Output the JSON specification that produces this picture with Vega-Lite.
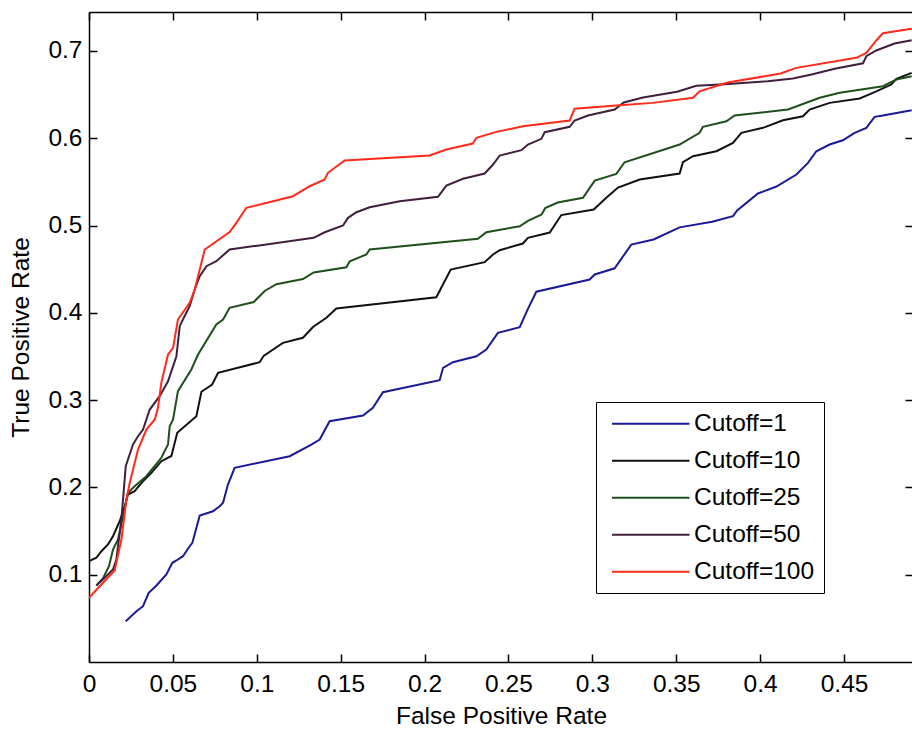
{
  "$schema": "https://vega.github.io/schema/vega-lite/v6.json",
  "autosize": {"type": "none"},
  "padding": {"left": 89, "top": 12, "right": 0, "bottom": 67},
  "width": 824,
  "height": 650,
  "background": "white",
  "config": {"view": {"stroke": null}, "font": "Liberation Sans"},
  "data": {"values": [
    {"s":"Cutoff=1","x":0.0219,"y":0.0467},{"s":"Cutoff=1","x":0.0283,"y":0.0582},{"s":"Cutoff=1","x":0.0322,"y":0.0639},{"s":"Cutoff=1","x":0.0356,"y":0.0793},{"s":"Cutoff=1","x":0.0402,"y":0.0876},{"s":"Cutoff=1","x":0.0461,"y":0.1002},{"s":"Cutoff=1","x":0.0497,"y":0.1136},{"s":"Cutoff=1","x":0.0521,"y":0.1163},{"s":"Cutoff=1","x":0.0560,"y":0.1212},{"s":"Cutoff=1","x":0.0600,"y":0.1326},{"s":"Cutoff=1","x":0.0616,"y":0.1365},{"s":"Cutoff=1","x":0.0660,"y":0.1678},{"s":"Cutoff=1","x":0.0739,"y":0.1727},{"s":"Cutoff=1","x":0.0779,"y":0.1785},{"s":"Cutoff=1","x":0.0799,"y":0.1824},{"s":"Cutoff=1","x":0.0828,"y":0.2033},{"s":"Cutoff=1","x":0.0868,"y":0.2224},{"s":"Cutoff=1","x":0.1196,"y":0.2357},{"s":"Cutoff=1","x":0.1325,"y":0.2491},{"s":"Cutoff=1","x":0.1375,"y":0.2549},{"s":"Cutoff=1","x":0.1434,"y":0.2758},{"s":"Cutoff=1","x":0.1633,"y":0.2824},{"s":"Cutoff=1","x":0.1692,"y":0.2912},{"s":"Cutoff=1","x":0.1752,"y":0.3090},{"s":"Cutoff=1","x":0.2090,"y":0.3228},{"s":"Cutoff=1","x":0.2110,"y":0.3370},{"s":"Cutoff=1","x":0.2169,"y":0.3434},{"s":"Cutoff=1","x":0.2309,"y":0.3503},{"s":"Cutoff=1","x":0.2368,"y":0.3580},{"s":"Cutoff=1","x":0.2437,"y":0.3771},{"s":"Cutoff=1","x":0.2567,"y":0.3835},{"s":"Cutoff=1","x":0.2616,"y":0.4046},{"s":"Cutoff=1","x":0.2666,"y":0.4242},{"s":"Cutoff=1","x":0.2984,"y":0.4381},{"s":"Cutoff=1","x":0.3014,"y":0.4439},{"s":"Cutoff=1","x":0.3133,"y":0.4510},{"s":"Cutoff=1","x":0.3232,"y":0.4782},{"s":"Cutoff=1","x":0.3365,"y":0.4840},{"s":"Cutoff=1","x":0.3520,"y":0.4979},{"s":"Cutoff=1","x":0.3714,"y":0.5044},{"s":"Cutoff=1","x":0.3838,"y":0.5107},{"s":"Cutoff=1","x":0.3863,"y":0.5172},{"s":"Cutoff=1","x":0.3987,"y":0.5367},{"s":"Cutoff=1","x":0.4097,"y":0.5447},{"s":"Cutoff=1","x":0.4216,"y":0.5584},{"s":"Cutoff=1","x":0.4285,"y":0.5718},{"s":"Cutoff=1","x":0.4335,"y":0.5851},{"s":"Cutoff=1","x":0.4414,"y":0.5928},{"s":"Cutoff=1","x":0.4493,"y":0.5977},{"s":"Cutoff=1","x":0.4563,"y":0.6062},{"s":"Cutoff=1","x":0.4633,"y":0.6119},{"s":"Cutoff=1","x":0.4682,"y":0.6245},{"s":"Cutoff=1","x":0.4732,"y":0.6260},{"s":"Cutoff=1","x":0.4903,"y":0.6321},
    {"s":"Cutoff=10","x":0.0,"y":0.1155},{"s":"Cutoff=10","x":0.0044,"y":0.1194},{"s":"Cutoff=10","x":0.0074,"y":0.1269},{"s":"Cutoff=10","x":0.0113,"y":0.1346},{"s":"Cutoff=10","x":0.0143,"y":0.1441},{"s":"Cutoff=10","x":0.0183,"y":0.1613},{"s":"Cutoff=10","x":0.0213,"y":0.1785},{"s":"Cutoff=10","x":0.0232,"y":0.1919},{"s":"Cutoff=10","x":0.0272,"y":0.1956},{"s":"Cutoff=10","x":0.0322,"y":0.2071},{"s":"Cutoff=10","x":0.0372,"y":0.2167},{"s":"Cutoff=10","x":0.0431,"y":0.2300},{"s":"Cutoff=10","x":0.0491,"y":0.2360},{"s":"Cutoff=10","x":0.0526,"y":0.2625},{"s":"Cutoff=10","x":0.0640,"y":0.2816},{"s":"Cutoff=10","x":0.0670,"y":0.3096},{"s":"Cutoff=10","x":0.0734,"y":0.3179},{"s":"Cutoff=10","x":0.0769,"y":0.3313},{"s":"Cutoff=10","x":0.1017,"y":0.3434},{"s":"Cutoff=10","x":0.1041,"y":0.3505},{"s":"Cutoff=10","x":0.1097,"y":0.3580},{"s":"Cutoff=10","x":0.1156,"y":0.3656},{"s":"Cutoff=10","x":0.1275,"y":0.3714},{"s":"Cutoff=10","x":0.1335,"y":0.3837},{"s":"Cutoff=10","x":0.1415,"y":0.3943},{"s":"Cutoff=10","x":0.1474,"y":0.4049},{"s":"Cutoff=10","x":0.2070,"y":0.4178},{"s":"Cutoff=10","x":0.2156,"y":0.4496},{"s":"Cutoff=10","x":0.2358,"y":0.4580},{"s":"Cutoff=10","x":0.2408,"y":0.4668},{"s":"Cutoff=10","x":0.2448,"y":0.4717},{"s":"Cutoff=10","x":0.2586,"y":0.4794},{"s":"Cutoff=10","x":0.2616,"y":0.4859},{"s":"Cutoff=10","x":0.2746,"y":0.4920},{"s":"Cutoff=10","x":0.2815,"y":0.5120},{"s":"Cutoff=10","x":0.3008,"y":0.5183},{"s":"Cutoff=10","x":0.3083,"y":0.5317},{"s":"Cutoff=10","x":0.3153,"y":0.5435},{"s":"Cutoff=10","x":0.3282,"y":0.5527},{"s":"Cutoff=10","x":0.3520,"y":0.5596},{"s":"Cutoff=10","x":0.3540,"y":0.5725},{"s":"Cutoff=10","x":0.3600,"y":0.5794},{"s":"Cutoff=10","x":0.3739,"y":0.5851},{"s":"Cutoff=10","x":0.3838,"y":0.5947},{"s":"Cutoff=10","x":0.3888,"y":0.6062},{"s":"Cutoff=10","x":0.4017,"y":0.6119},{"s":"Cutoff=10","x":0.4136,"y":0.6206},{"s":"Cutoff=10","x":0.4255,"y":0.6252},{"s":"Cutoff=10","x":0.4295,"y":0.6329},{"s":"Cutoff=10","x":0.4414,"y":0.6405},{"s":"Cutoff=10","x":0.4593,"y":0.6455},{"s":"Cutoff=10","x":0.4672,"y":0.6520},{"s":"Cutoff=10","x":0.4782,"y":0.6615},{"s":"Cutoff=10","x":0.4812,"y":0.6680},{"s":"Cutoff=10","x":0.4903,"y":0.6749},
    {"s":"Cutoff=25","x":0.0044,"y":0.0876},{"s":"Cutoff=25","x":0.0083,"y":0.0956},{"s":"Cutoff=25","x":0.0119,"y":0.1097},{"s":"Cutoff=25","x":0.0143,"y":0.1289},{"s":"Cutoff=25","x":0.0173,"y":0.1403},{"s":"Cutoff=25","x":0.0203,"y":0.1670},{"s":"Cutoff=25","x":0.0232,"y":0.1938},{"s":"Cutoff=25","x":0.0272,"y":0.2014},{"s":"Cutoff=25","x":0.0342,"y":0.2128},{"s":"Cutoff=25","x":0.0431,"y":0.2339},{"s":"Cutoff=25","x":0.0471,"y":0.2491},{"s":"Cutoff=25","x":0.0481,"y":0.2701},{"s":"Cutoff=25","x":0.0501,"y":0.2778},{"s":"Cutoff=25","x":0.0530,"y":0.3102},{"s":"Cutoff=25","x":0.0610,"y":0.3351},{"s":"Cutoff=25","x":0.0650,"y":0.3522},{"s":"Cutoff=25","x":0.0759,"y":0.3866},{"s":"Cutoff=25","x":0.0799,"y":0.3923},{"s":"Cutoff=25","x":0.0838,"y":0.4057},{"s":"Cutoff=25","x":0.0982,"y":0.4124},{"s":"Cutoff=25","x":0.1047,"y":0.4250},{"s":"Cutoff=25","x":0.1117,"y":0.4328},{"s":"Cutoff=25","x":0.1275,"y":0.4387},{"s":"Cutoff=25","x":0.1339,"y":0.4462},{"s":"Cutoff=25","x":0.1534,"y":0.4522},{"s":"Cutoff=25","x":0.1554,"y":0.4591},{"s":"Cutoff=25","x":0.1653,"y":0.4668},{"s":"Cutoff=25","x":0.1673,"y":0.4725},{"s":"Cutoff=25","x":0.2318,"y":0.4848},{"s":"Cutoff=25","x":0.2368,"y":0.4923},{"s":"Cutoff=25","x":0.2567,"y":0.4992},{"s":"Cutoff=25","x":0.2616,"y":0.5054},{"s":"Cutoff=25","x":0.2698,"y":0.5126},{"s":"Cutoff=25","x":0.2719,"y":0.5200},{"s":"Cutoff=25","x":0.2793,"y":0.5263},{"s":"Cutoff=25","x":0.2944,"y":0.5317},{"s":"Cutoff=25","x":0.3014,"y":0.5515},{"s":"Cutoff=25","x":0.3143,"y":0.5592},{"s":"Cutoff=25","x":0.3192,"y":0.5725},{"s":"Cutoff=25","x":0.3520,"y":0.5928},{"s":"Cutoff=25","x":0.3639,"y":0.6062},{"s":"Cutoff=25","x":0.3659,"y":0.6131},{"s":"Cutoff=25","x":0.3799,"y":0.6195},{"s":"Cutoff=25","x":0.3848,"y":0.6260},{"s":"Cutoff=25","x":0.4166,"y":0.6329},{"s":"Cutoff=25","x":0.4355,"y":0.6463},{"s":"Cutoff=25","x":0.4474,"y":0.6520},{"s":"Cutoff=25","x":0.4732,"y":0.6596},{"s":"Cutoff=25","x":0.4812,"y":0.6672},{"s":"Cutoff=25","x":0.4903,"y":0.6710},
    {"s":"Cutoff=50","x":0.0044,"y":0.0876},{"s":"Cutoff=50","x":0.0083,"y":0.0945},{"s":"Cutoff=50","x":0.0143,"y":0.1060},{"s":"Cutoff=50","x":0.0163,"y":0.1174},{"s":"Cutoff=50","x":0.0193,"y":0.1632},{"s":"Cutoff=50","x":0.0219,"y":0.2243},{"s":"Cutoff=50","x":0.0262,"y":0.2491},{"s":"Cutoff=50","x":0.0292,"y":0.2586},{"s":"Cutoff=50","x":0.0322,"y":0.2663},{"s":"Cutoff=50","x":0.0362,"y":0.2892},{"s":"Cutoff=50","x":0.0421,"y":0.3045},{"s":"Cutoff=50","x":0.0471,"y":0.3216},{"s":"Cutoff=50","x":0.0521,"y":0.3503},{"s":"Cutoff=50","x":0.0541,"y":0.3847},{"s":"Cutoff=50","x":0.0560,"y":0.3923},{"s":"Cutoff=50","x":0.0600,"y":0.4076},{"s":"Cutoff=50","x":0.0630,"y":0.4267},{"s":"Cutoff=50","x":0.0660,"y":0.4419},{"s":"Cutoff=50","x":0.0700,"y":0.4534},{"s":"Cutoff=50","x":0.0759,"y":0.4591},{"s":"Cutoff=50","x":0.0838,"y":0.4725},{"s":"Cutoff=50","x":0.1339,"y":0.4859},{"s":"Cutoff=50","x":0.1405,"y":0.4923},{"s":"Cutoff=50","x":0.1514,"y":0.5000},{"s":"Cutoff=50","x":0.1544,"y":0.5088},{"s":"Cutoff=50","x":0.1594,"y":0.5152},{"s":"Cutoff=50","x":0.1673,"y":0.5210},{"s":"Cutoff=50","x":0.1852,"y":0.5278},{"s":"Cutoff=50","x":0.2080,"y":0.5329},{"s":"Cutoff=50","x":0.2130,"y":0.5458},{"s":"Cutoff=50","x":0.2229,"y":0.5535},{"s":"Cutoff=50","x":0.2358,"y":0.5596},{"s":"Cutoff=50","x":0.2408,"y":0.5699},{"s":"Cutoff=50","x":0.2448,"y":0.5802},{"s":"Cutoff=50","x":0.2577,"y":0.5863},{"s":"Cutoff=50","x":0.2616,"y":0.5928},{"s":"Cutoff=50","x":0.2696,"y":0.5993},{"s":"Cutoff=50","x":0.2716,"y":0.6069},{"s":"Cutoff=50","x":0.2865,"y":0.6131},{"s":"Cutoff=50","x":0.2894,"y":0.6203},{"s":"Cutoff=50","x":0.2974,"y":0.6260},{"s":"Cutoff=50","x":0.3133,"y":0.6329},{"s":"Cutoff=50","x":0.3187,"y":0.6409},{"s":"Cutoff=50","x":0.3302,"y":0.6466},{"s":"Cutoff=50","x":0.3505,"y":0.6533},{"s":"Cutoff=50","x":0.3620,"y":0.6600},{"s":"Cutoff=50","x":0.3788,"y":0.6619},{"s":"Cutoff=50","x":0.4045,"y":0.6653},{"s":"Cutoff=50","x":0.4195,"y":0.6684},{"s":"Cutoff=50","x":0.4313,"y":0.6733},{"s":"Cutoff=50","x":0.4444,"y":0.6796},{"s":"Cutoff=50","x":0.4613,"y":0.6859},{"s":"Cutoff=50","x":0.4633,"y":0.6939},{"s":"Cutoff=50","x":0.4692,"y":0.7005},{"s":"Cutoff=50","x":0.4801,"y":0.7085},{"s":"Cutoff=50","x":0.4903,"y":0.7123},
    {"s":"Cutoff=100","x":0.0,"y":0.0735},{"s":"Cutoff=100","x":0.0064,"y":0.0868},{"s":"Cutoff=100","x":0.0153,"y":0.1048},{"s":"Cutoff=100","x":0.0193,"y":0.1403},{"s":"Cutoff=100","x":0.0223,"y":0.1861},{"s":"Cutoff=100","x":0.0243,"y":0.2053},{"s":"Cutoff=100","x":0.0292,"y":0.2434},{"s":"Cutoff=100","x":0.0342,"y":0.2663},{"s":"Cutoff=100","x":0.0392,"y":0.2778},{"s":"Cutoff=100","x":0.0411,"y":0.2912},{"s":"Cutoff=100","x":0.0431,"y":0.3198},{"s":"Cutoff=100","x":0.0471,"y":0.3522},{"s":"Cutoff=100","x":0.0501,"y":0.3599},{"s":"Cutoff=100","x":0.0530,"y":0.3923},{"s":"Cutoff=100","x":0.0600,"y":0.4115},{"s":"Cutoff=100","x":0.0630,"y":0.4267},{"s":"Cutoff=100","x":0.0690,"y":0.4725},{"s":"Cutoff=100","x":0.0838,"y":0.4926},{"s":"Cutoff=100","x":0.0878,"y":0.5031},{"s":"Cutoff=100","x":0.0938,"y":0.5203},{"s":"Cutoff=100","x":0.1097,"y":0.5278},{"s":"Cutoff=100","x":0.1216,"y":0.5336},{"s":"Cutoff=100","x":0.1315,"y":0.5450},{"s":"Cutoff=100","x":0.1405,"y":0.5527},{"s":"Cutoff=100","x":0.1424,"y":0.5604},{"s":"Cutoff=100","x":0.1524,"y":0.5745},{"s":"Cutoff=100","x":0.2030,"y":0.5802},{"s":"Cutoff=100","x":0.2130,"y":0.5871},{"s":"Cutoff=100","x":0.2288,"y":0.5939},{"s":"Cutoff=100","x":0.2309,"y":0.6005},{"s":"Cutoff=100","x":0.2428,"y":0.6073},{"s":"Cutoff=100","x":0.2586,"y":0.6137},{"s":"Cutoff=100","x":0.2865,"y":0.6203},{"s":"Cutoff=100","x":0.2894,"y":0.6337},{"s":"Cutoff=100","x":0.3143,"y":0.6375},{"s":"Cutoff=100","x":0.3361,"y":0.6405},{"s":"Cutoff=100","x":0.3600,"y":0.6463},{"s":"Cutoff=100","x":0.3639,"y":0.6538},{"s":"Cutoff=100","x":0.3806,"y":0.6638},{"s":"Cutoff=100","x":0.4122,"y":0.6741},{"s":"Cutoff=100","x":0.4216,"y":0.6806},{"s":"Cutoff=100","x":0.4573,"y":0.6921},{"s":"Cutoff=100","x":0.4633,"y":0.6978},{"s":"Cutoff=100","x":0.4697,"y":0.7131},{"s":"Cutoff=100","x":0.4732,"y":0.7203},{"s":"Cutoff=100","x":0.4903,"y":0.7254}
  ]},
  "resolve": {"axis": {"x": "independent", "y": "independent"}},
  "layer": [
    {
      "mark": {"type": "line", "strokeWidth": 2, "clip": true},
      "encoding": {
        "x": {"field": "x", "type": "quantitative",
          "scale": {"domain": [0, 0.4911], "nice": false, "zero": false},
          "axis": {"orient": "bottom", "values": [0,0.05,0.1,0.15,0.2,0.25,0.3,0.35,0.4,0.45], "format": "~g",
            "title": "False Positive Rate", "grid": false, "tickSize": -8, "tickWidth": 1.5, "tickColor": "black",
            "domainColor": "black", "domainWidth": 1.5, "labelPadding": 18, "labelFontSize": 24.5, "labelColor": "black",
            "labelFlush": false, "labelOverlap": false, "labelFont": "Liberation Sans",
            "titleFontSize": 24.5, "titleFontWeight": "normal", "titleColor": "black", "titleFont": "Liberation Sans", "titlePadding": 9}},
        "y": {"field": "y", "type": "quantitative",
          "scale": {"domain": [0, 0.7446], "nice": false, "zero": false},
          "axis": {"orient": "left", "values": [0.1,0.2,0.3,0.4,0.5,0.6,0.7], "format": "~g",
            "title": "True Positive Rate", "grid": false, "tickSize": -8, "tickWidth": 1.5, "tickColor": "black",
            "domainColor": "black", "domainWidth": 1.5, "labelPadding": 15, "labelFontSize": 24.5, "labelColor": "black",
            "labelFlush": false, "labelOverlap": false, "labelFont": "Liberation Sans",
            "titleFontSize": 24.5, "titleFontWeight": "normal", "titleColor": "black", "titleFont": "Liberation Sans", "titlePadding": 14}},
        "color": {"field": "s", "type": "nominal",
          "scale": {"domain": ["Cutoff=1","Cutoff=10","Cutoff=25","Cutoff=50","Cutoff=100"],
                    "range": ["#1a1a96","#111111","#1f4f1a","#3f1f3d","#ff2a1a"]},
          "legend": {"orient": "none", "legendX": 507, "legendY": 390, "title": null, "direction": "vertical",
            "symbolType": "M-10,0H10", "symbolSize": 60, "symbolStrokeWidth": 2, "symbolOffset": 33,
            "labelFontSize": 24.5, "labelFont": "Liberation Sans", "labelColor": "black", "labelOffset": 31,
            "rowPadding": 12, "padding": 9.5, "strokeColor": "black", "fillColor": "white"}}
      }
    },
    {
      "mark": {"type": "line", "strokeOpacity": 0},
      "encoding": {
        "x": {"field": "x", "type": "quantitative",
          "axis": {"orient": "top", "values": [0,0.05,0.1,0.15,0.2,0.25,0.3,0.35,0.4,0.45], "labels": false, "title": null,
            "grid": false, "tickSize": -8, "tickWidth": 1.5, "tickColor": "black", "domainColor": "black", "domainWidth": 1.5}},
        "y": {"field": "y", "type": "quantitative",
          "axis": {"orient": "right", "values": [0.1,0.2,0.3,0.4,0.5,0.6,0.7], "labels": false, "title": null,
            "grid": false, "tickSize": -8, "tickWidth": 1.5, "tickColor": "black", "domainColor": "black", "domainWidth": 1.5}},
        "detail": {"field": "s", "type": "nominal"}
      }
    }
  ]
}
